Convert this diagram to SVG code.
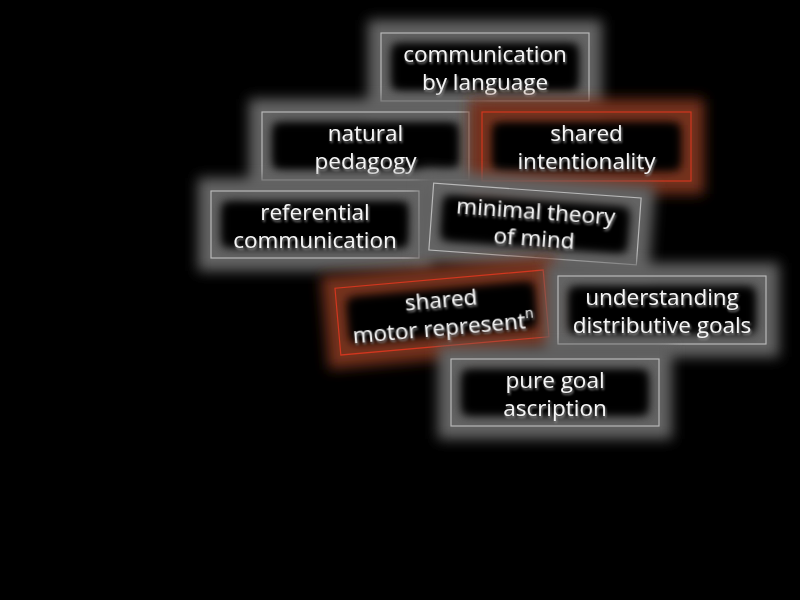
<svg xmlns="http://www.w3.org/2000/svg" width="800" height="600" viewBox="0 0 800 600">
<defs>
<filter id="glow" x="-30%" y="-70%" width="160%" height="240%"><feGaussianBlur stdDeviation="6.5"/></filter>
<filter id="coreblur" x="-20%" y="-40%" width="140%" height="180%"><feGaussianBlur stdDeviation="4"/></filter>
<filter id="tshadow" x="-10%" y="-30%" width="120%" height="160%"><feDropShadow dx="1" dy="2" stdDeviation="1.3" flood-color="#8a8a8a" flood-opacity="0.9"/></filter>
</defs>
<style>
.halo{fill:none;stroke:#646464;stroke-width:26;filter:url(#glow)}
.red .halo{stroke:#74301f}
.core{fill:#000;filter:url(#coreblur)}
.border{fill:none;stroke:#b8b8b8;stroke-width:1.2}
.red .border{stroke:#d2361f}
text{font-family:"Open Sans","DejaVu Sans",sans-serif;font-size:22.5px;fill:#f6f6f6;text-anchor:middle;filter:url(#tshadow)}
</style>
<rect width="800" height="600" fill="#000"/>
<g id="connectors"></g>

<g id="n-comm-lang" class="node">
<rect class="halo" x="381" y="33" width="208" height="68"/>
<rect class="core" x="393" y="45" width="184" height="44"/>
<rect class="border" x="381" y="33" width="208" height="68"/>
<text x="485" y="61.5">communication</text>
<text x="485" y="89.5">by language</text>
</g>

<g id="n-natural-pedagogy" class="node">
<rect class="halo" x="262" y="112" width="207" height="68"/>
<rect class="core" x="274" y="124" width="183" height="44"/>
<rect class="border" x="262" y="112" width="207" height="68"/>
<text x="365.5" y="141">natural</text>
<text x="365.5" y="169">pedagogy</text>
</g>

<g id="n-shared-intentionality" class="node red">
<rect class="halo" x="482" y="112" width="209" height="69"/>
<rect class="core" x="494" y="124" width="185" height="45"/>
<rect class="border" x="482" y="112" width="209" height="69"/>
<text x="586.5" y="141">shared</text>
<text x="586.5" y="169">intentionality</text>
</g>

<g id="n-referential" class="node">
<rect class="halo" x="211" y="191" width="208" height="67"/>
<rect class="core" x="223" y="203" width="184" height="43"/>
<rect class="border" x="211" y="191" width="208" height="67"/>
<text x="315" y="219.5">referential</text>
<text x="315" y="247.5">communication</text>
</g>

<g id="n-minimal-tom" class="node" transform="translate(535,224) rotate(4.1)">
<rect class="halo" x="-104" y="-33.5" width="208" height="67"/>
<rect class="core" x="-92" y="-21.5" width="184" height="43"/>
<rect class="border" x="-104" y="-33.5" width="208" height="67"/>
<text x="0" y="-5.5">minimal theory</text>
<text x="0" y="22.5">of mind</text>
</g>

<g id="n-shared-motor" class="node red" transform="translate(442,312.5) rotate(-5)">
<rect class="halo" x="-104.5" y="-33.5" width="209" height="67"/>
<rect class="core" x="-92.5" y="-21.5" width="185" height="43"/>
<rect class="border" x="-104.5" y="-33.5" width="209" height="67"/>
<text x="0" y="-5.5">shared</text>
<text x="0" y="22.5">motor represent<tspan font-size="14" dy="-10">n</tspan></text>
</g>

<g id="n-distributive-goals" class="node">
<rect class="halo" x="558" y="276" width="208" height="68"/>
<rect class="core" x="570" y="288" width="184" height="44"/>
<rect class="border" x="558" y="276" width="208" height="68"/>
<text x="662" y="305">understanding</text>
<text x="662" y="333">distributive goals</text>
</g>

<g id="n-pure-goal" class="node">
<rect class="halo" x="451" y="359" width="208" height="67"/>
<rect class="core" x="463" y="371" width="184" height="43"/>
<rect class="border" x="451" y="359" width="208" height="67"/>
<text x="555" y="387.5">pure goal</text>
<text x="555" y="415.5">ascription</text>
</g>
</svg>
